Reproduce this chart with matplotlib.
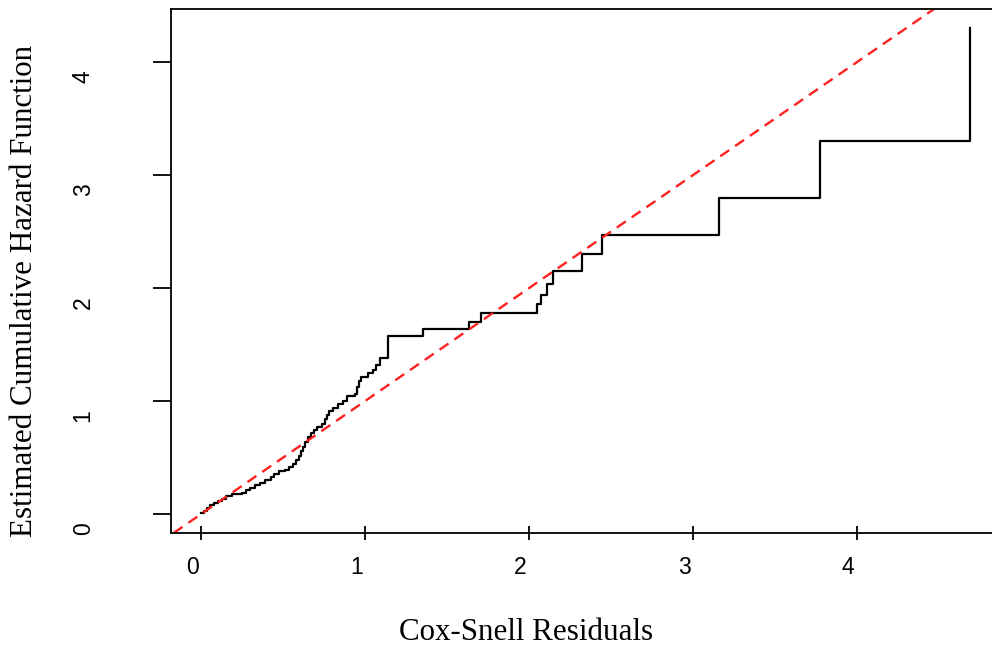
import numpy as np
import matplotlib.pyplot as plt
import matplotlib.transforms as mtransforms

# Cox-Snell residuals vs estimated cumulative hazard
resid = [0.00, 0.014, 0.032, 0.051, 0.075, 0.099, 0.124, 0.148, 0.185, 0.246,
         0.270, 0.295, 0.325, 0.356, 0.386, 0.423, 0.441, 0.472, 0.508, 0.533,
         0.557, 0.575, 0.594, 0.606, 0.618, 0.630, 0.649, 0.667, 0.685, 0.703,
         0.734, 0.752, 0.765, 0.777, 0.801, 0.832, 0.862, 0.887, 0.935, 0.948,
         0.960, 0.972, 1.015, 1.045, 1.064, 1.088, 1.137, 1.350, 1.631, 1.704,
         2.044, 2.070, 2.107, 2.144, 2.318, 2.440, 3.158, 3.772, 4.688]
cumhaz = [0.01, 0.027, 0.053, 0.080, 0.098, 0.115, 0.133, 0.160, 0.177, 0.186,
          0.213, 0.230, 0.257, 0.275, 0.301, 0.328, 0.355, 0.381, 0.390, 0.417,
          0.443, 0.479, 0.514, 0.559, 0.594, 0.638, 0.683, 0.718, 0.745, 0.771,
          0.798, 0.842, 0.878, 0.913, 0.940, 0.975, 1.002, 1.046, 1.064, 1.126,
          1.179, 1.215, 1.250, 1.277, 1.321, 1.383, 1.578, 1.637, 1.696, 1.776,
          1.853, 1.933, 2.036, 2.148, 2.302, 2.465, 2.799, 3.298, 4.297]

xticks = [0, 1, 2, 3, 4]
yticks = [0, 1, 2, 3, 4]

plt.rcParams['font.family'] = ['Liberation Sans', 'DejaVu Sans']

fig = plt.figure(figsize=(9.92, 6.47), dpi=100)
# right edge of the box falls just outside the picture, as in the original
ax = fig.add_axes([0.1721, 0.1762, 0.8369, 0.8099])

ax.plot(resid, cumhaz, drawstyle='steps-post', color='black', lw=1.6)
ax.axline((0, 0), slope=1, color='#ff2020', lw=1.7, dashes=(4.6, 3.0))

ax.set_xlim(-0.1875, 4.876)
ax.set_ylim(-0.17, 4.468)

for s in ['left', 'top', 'bottom']:
    ax.spines[s].set_linewidth(1.3)
ax.spines['right'].set_visible(False)

ax.set_xticks(xticks)
ax.set_yticks(yticks)
ax.tick_params(axis='x', direction='inout', length=9.4, width=1.3, labelsize=16.5, pad=12)
ax.tick_params(axis='y', direction='out', length=13, width=1.3, labelsize=16.5, pad=50)

for lab in ax.get_xticklabels():
    lab.set_transform(lab.get_transform() + mtransforms.ScaledTranslation(-0.09, 0, fig.dpi_scale_trans))
for lab in ax.get_yticklabels():
    lab.set_rotation(90)
    lab.set_ha('center')
    lab.set_va('center')
    lab.set_transform(lab.get_transform() + mtransforms.ScaledTranslation(0, -0.15, fig.dpi_scale_trans))

ax.set_xlabel('Cox-Snell Residuals', family='Liberation Serif', fontsize=22.3, va='center')
ax.xaxis.set_label_coords(0.4286, -0.189)
ax.set_ylabel('Estimated Cumulative Hazard Function', family='Liberation Serif', fontsize=22.3,
              va='center', ha='center')
ax.yaxis.set_label_coords(-0.1767, 0.4618)

plt.savefig('out.png', dpi=100)
